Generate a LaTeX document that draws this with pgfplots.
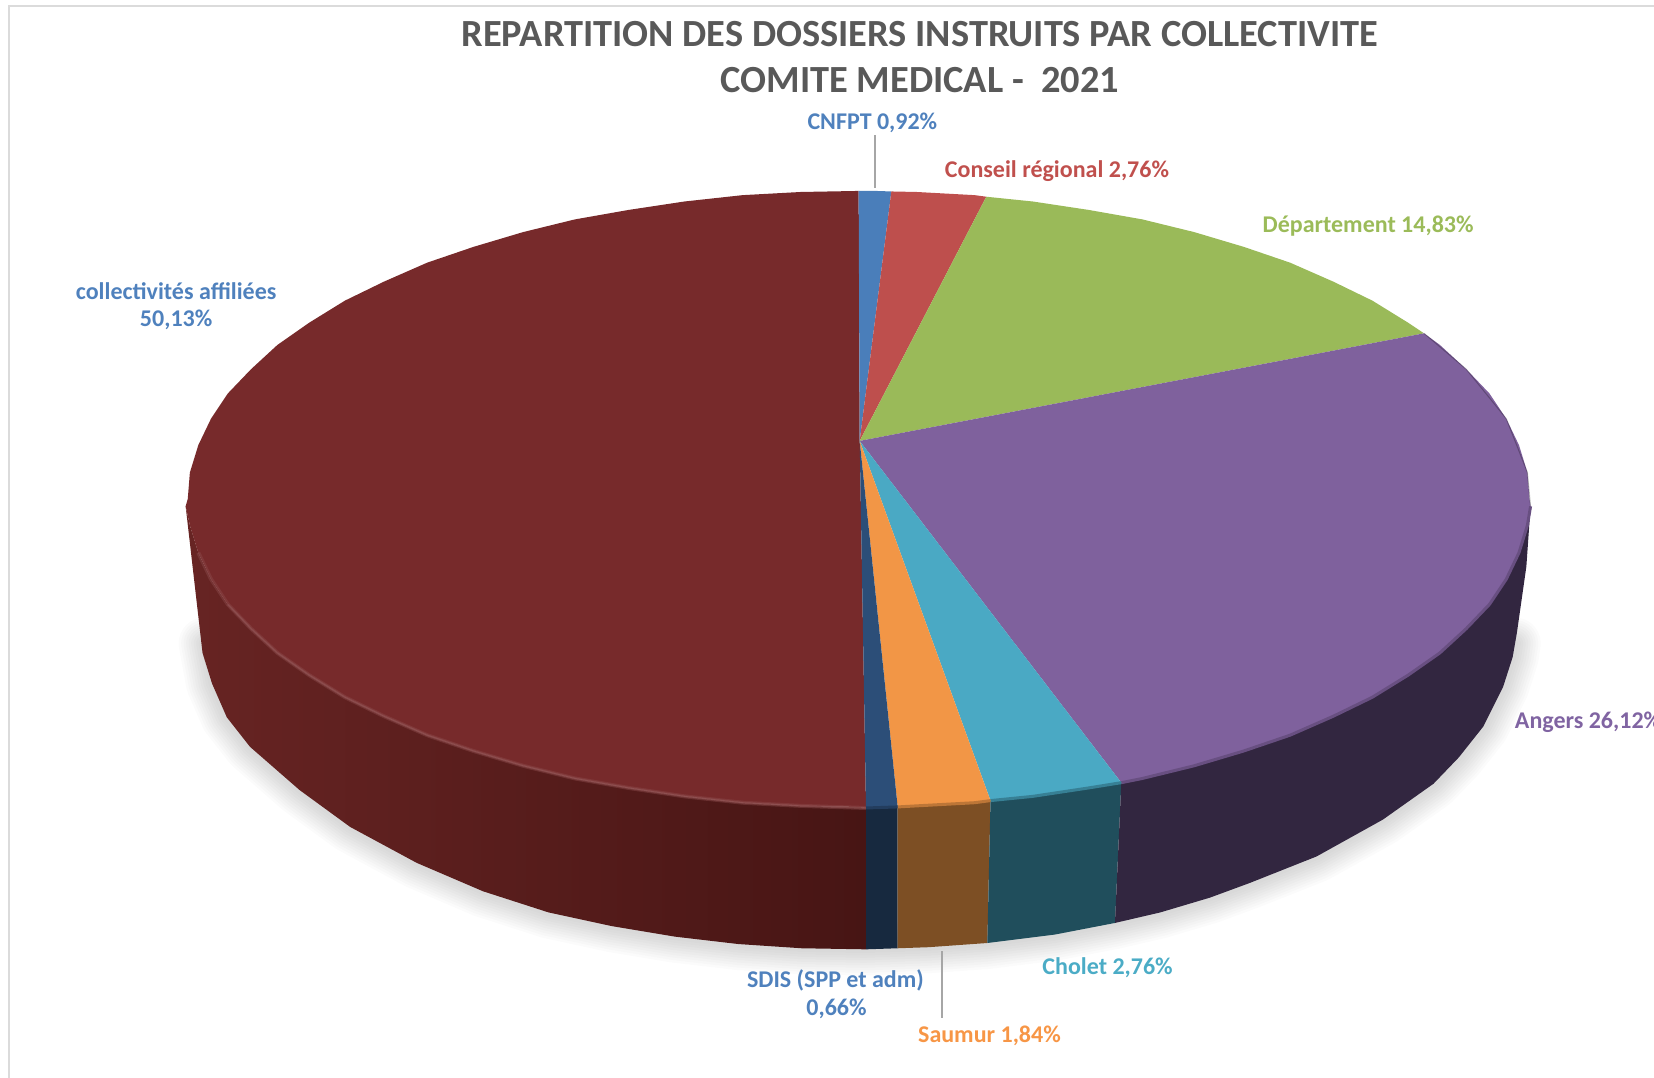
\documentclass[border=0pt]{standalone}
\usepackage{fontspec}
\setmainfont{Carlito}
\usepackage{pgfplots}
\usepackage{pgfplotstable}
\pgfplotsset{compat=1.18}
\definecolor{cA}{HTML}{4A7EBA}
\definecolor{cB}{HTML}{BE4F4D}
\definecolor{cC}{HTML}{9ABA59}
\definecolor{cD}{HTML}{7F619D}
\definecolor{cE}{HTML}{4AA9C4}
\definecolor{cF}{HTML}{F29646}
\definecolor{cG}{HTML}{2C4E78}
\definecolor{cH}{HTML}{772A2B}
\definecolor{wD}{HTML}{322640}
\definecolor{wE}{HTML}{204E5C}
\definecolor{wF}{HTML}{7D4F24}
\definecolor{wG}{HTML}{17293F}
\definecolor{wHl}{HTML}{672423}
\definecolor{wHr}{HTML}{471514}
\definecolor{tA}{HTML}{4F81BD}
\definecolor{tB}{HTML}{C0504D}
\definecolor{tC}{HTML}{9BBB59}
\definecolor{tD}{HTML}{8064A2}
\definecolor{tE}{HTML}{4BACC6}
\definecolor{tF}{HTML}{F79646}
\definecolor{title}{HTML}{595959}
\pgfplotstableread{
x y
194 610
201 648
215 680
237 708
284 749
332 784
395 818
458 845
520 865
580 878
640 888
700 895
760 899
820 900
850 899
880 898
936 894
1000 886
1057 875
1100 865
1147 851
1185 837
1248 812
1311 777
1359 743
1383 718
1406 689
1425 651
1434 623
1436 610
}\outline
\newcommand{\lab}[4]{\node[text=#3,font=\fontsize{#4}{#4}\selectfont\bfseries,align=center,inner sep=0pt] at (axis cs:#1,#2)}
\pgfplotsset{shadowline/.style={draw=black,opacity=.016,line width=#1,line join=round,line cap=round,mark=none}}
\begin{document}
\begin{tikzpicture}
\begin{axis}[at={(0,0)},anchor=south west,scale only axis,width=1654pt,height=1078pt,
  xmin=0,xmax=1568,ymin=0,ymax=1022,y dir=reverse,hide axis,clip=false]
% frame
\addplot[draw=black!14,line width=2pt,mark=none] coordinates {(9,1022) (9,5.5) (1568,5.5)};
% shadow
\addplot[shadowline=52pt] table[x=x,y=y] {\outline};
\addplot[shadowline=47pt] table[x=x,y=y] {\outline};
\addplot[shadowline=42pt] table[x=x,y=y] {\outline};
\addplot[shadowline=37pt] table[x=x,y=y] {\outline};
\addplot[shadowline=32pt] table[x=x,y=y] {\outline};
\addplot[shadowline=27pt] table[x=x,y=y] {\outline};
\addplot[shadowline=22pt] table[x=x,y=y] {\outline};
\addplot[shadowline=17pt] table[x=x,y=y] {\outline};
\addplot[shadowline=12pt] table[x=x,y=y] {\outline};
\addplot[shadowline=7pt] table[x=x,y=y] {\outline};
% walls
\addplot[draw=none,shade,left color=wHl,right color=wHr,mark=none] coordinates {(821,766)(814,765)(759,764)(704,761)(649,755)(596,747)(545,738)(496,726)(449,712)(405,697)(364,679)(327,661)(293,640)(263,619)(238,596)(216,573)(200,549)(188,524)(180,498)(176,480)(192,619)(201,648)(215,680)(237,708)(284,749)(332,784)(395,818)(458,845)(520,865)(580,878)(640,888)(700,895)(760,899)(821,900)} -- cycle;
\addplot[draw=none,fill=wG,mark=none] coordinates {(821,766)(851,765)(851,899)(821,900)} -- cycle;
\addplot[draw=none,fill=wF,mark=none] coordinates {(851,765)(869,764)(924,761)(939,759)(936,894)(880,898)(851,899)} -- cycle;
\addplot[draw=none,fill=wE,mark=none] coordinates {(939,759)(979,755)(1032,747)(1063,742)(1057,875)(1000,886)(936,894)} -- cycle;
\addplot[draw=none,fill=wD,mark=none] coordinates {(1063,742)(1083,738)(1132,726)(1179,712)(1223,697)(1264,679)(1301,661)(1335,640)(1365,619)(1390,596)(1412,573)(1428,549)(1440,524)(1448,498)(1451,480)(1447,537)(1438,600)(1434,623)(1425,651)(1406,689)(1383,718)(1359,743)(1311,777)(1248,812)(1185,837)(1147,851)(1100,865)(1057,875)} -- cycle;
% top face
\addplot[draw=none,fill=cH,mark=none] coordinates {(815,418)(821,766)(814,765)(759,764)(704,761)(649,755)(596,747)(545,738)(496,726)(449,712)(405,697)(364,679)(327,661)(293,640)(263,619)(238,596)(216,573)(200,549)(188,524)(180,498)(176,480)(178,473)(180,448)(188,422)(200,397)(216,373)(238,350)(263,327)(293,306)(327,285)(364,267)(405,249)(449,234)(496,220)(545,208)(596,199)(649,191)(704,185)(759,182)(814,181)} -- cycle;
\addplot[draw=none,fill=cA,mark=none] coordinates {(815,418)(814,181)(830,181)(845,181.5)} -- cycle;
\addplot[draw=none,fill=cB,mark=none] coordinates {(815,418)(845,181.5)(869,182)(924,185)(935,186.5)} -- cycle;
\addplot[draw=none,fill=cC,mark=none] coordinates {(815,418)(935,186.5)(979,191)(1032,199)(1083,208)(1132,220)(1179,234)(1223,249)(1264,267)(1301,285)(1335,306)(1350,316)} -- cycle;
\addplot[draw=none,fill=cD,mark=none] coordinates {(815,418)(1350,316)(1365,327)(1390,350)(1412,373)(1428,397)(1440,422)(1448,448)(1450,473)(1451,480)(1448,498)(1440,524)(1428,549)(1412,573)(1390,596)(1365,619)(1335,640)(1301,661)(1264,679)(1223,697)(1179,712)(1132,726)(1083,738)(1063,742)} -- cycle;
\addplot[draw=none,fill=cE,mark=none] coordinates {(815,418)(1063,742)(1032,747)(979,755)(939,759)} -- cycle;
\addplot[draw=none,fill=cF,mark=none] coordinates {(815,418)(939,759)(924,761)(869,764)(851,765)} -- cycle;
\addplot[draw=none,fill=cG,mark=none] coordinates {(815,418)(851,765)(821,766)} -- cycle;
% rim highlights
\addplot[draw=cH!85!white,line width=4pt,opacity=.45,mark=none] coordinates {(821,766)(759,764)(704,761)(649,755)(596,747)(545,738)(496,726)(449,712)(405,697)(364,679)(327,661)(293,640)(263,619)(238,596)(216,573)(200,549)(188,524)};
\addplot[draw=cH!82!white,line width=1.8pt,opacity=.7,mark=none] coordinates {(821,766)(759,764)(704,761)(649,755)(596,747)(545,738)(496,726)(449,712)(405,697)(364,679)(327,661)(293,640)(263,619)(238,596)(216,573)};
\addplot[draw=cD!70!wD,line width=3pt,mark=none] coordinates {(1063,742)(1083,738)(1132,726)(1179,712)(1223,697)(1264,679)(1301,661)(1335,640)(1365,619)(1390,596)(1412,573)(1428,549)(1440,524)(1448,498)(1451,480)};
\addplot[draw=cE!55!wE,line width=3pt,mark=none] coordinates {(939,759)(979,755)(1032,747)(1063,742)};
\addplot[draw=cF!55!wF,line width=3pt,mark=none] coordinates {(851,765)(869,764)(924,761)(939,759)};
\addplot[draw=cG!55!wG,line width=3pt,mark=none] coordinates {(821,766)(851,765)};
\addplot[draw=black,draw opacity=.25,line width=1pt,mark=none] coordinates {(1350,316)(1390,350)(1428,397)(1448,448)(1451,480)};
% leaders
\addplot[draw=black!35,line width=1.2pt,mark=none] coordinates {(829.5,128)(829.5,178)};
\addplot[draw=black!35,line width=1.2pt,mark=none] coordinates {(893,902)(893,965)};
% text
\lab{872}{32}{title}{38.4}{REPARTITION DES DOSSIERS INSTRUITS PAR COLLECTIVITE};
\lab{872}{75.5}{title}{38.4}{COMITE MEDICAL -\ \ 2021};
\lab{827}{116}{tA}{24}{CNFPT 0,92\%};
\lab{1002}{162}{tB}{24}{Conseil régional 2,76\%};
\lab{1297}{214}{tC}{24}{Département 14,83\%};
\node[text=tD,font=\fontsize{24}{24}\selectfont\bfseries,anchor=west,inner sep=0pt] at (axis cs:1436,685) {Angers 26,12\%};
\lab{1050}{917}{tE}{24}{Cholet 2,76\%};
\lab{938}{982}{tF}{24}{Saumur 1,84\%};
\lab{792}{929}{tA}{24}{SDIS (SPP et adm)};
\lab{793}{956}{tA}{24}{0,66\%};
\lab{167}{276}{tA}{24}{collectivités affiliées};
\lab{167}{303}{tA}{24}{50,13\%};
\end{axis}
\pgfresetboundingbox
\path[use as bounding box] (0,0) rectangle (1654pt,1078pt);
\end{tikzpicture}
\end{document}
